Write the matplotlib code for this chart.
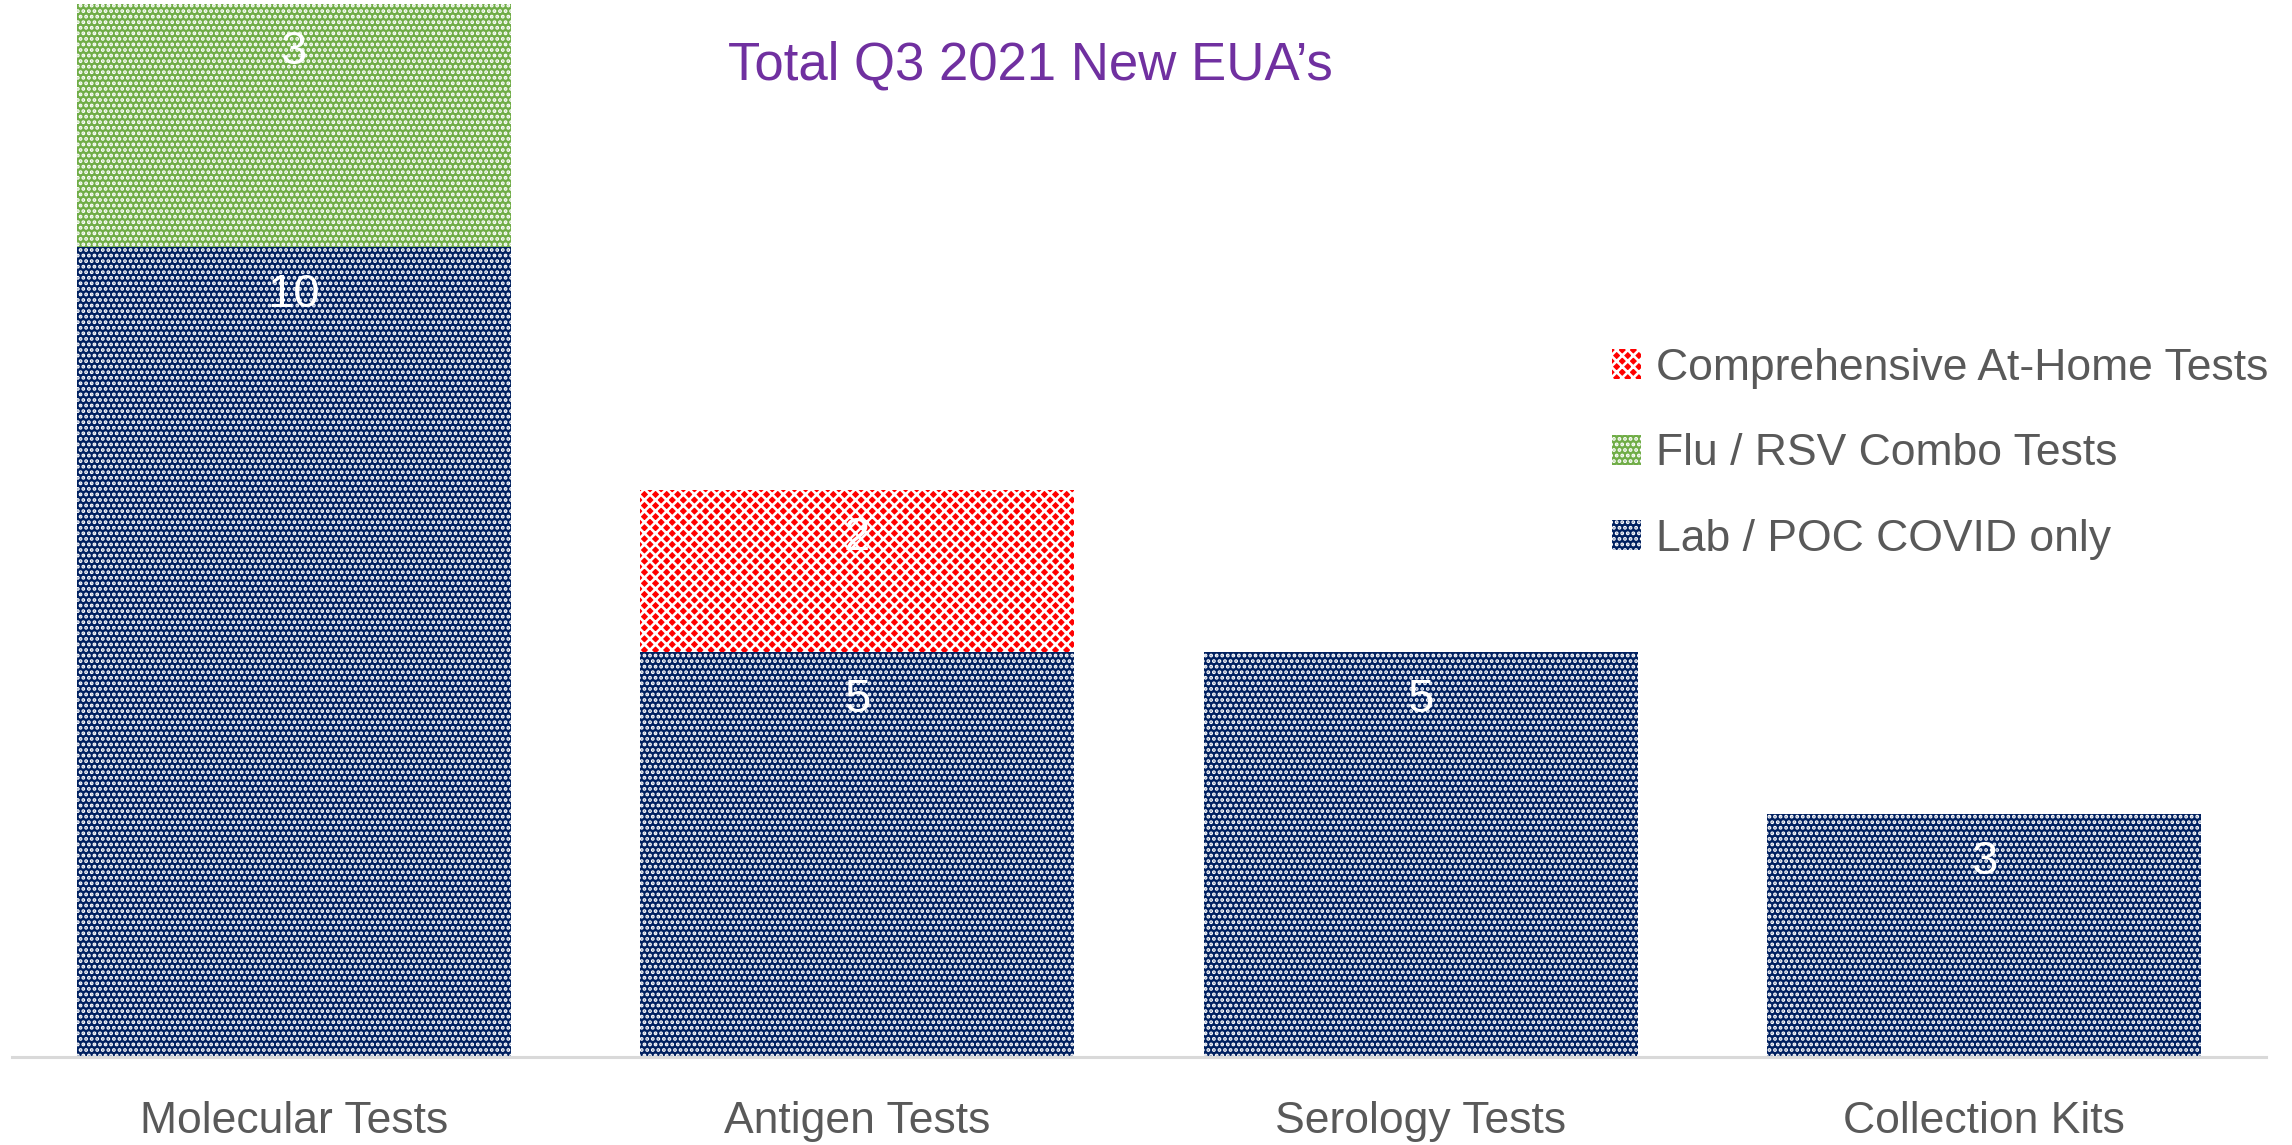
import matplotlib
matplotlib.use("Agg")
import matplotlib.pyplot as plt
import numpy as np

categories = ["Molecular Tests", "Antigen Tests", "Serology Tests", "Collection Kits"]
lab_poc = [10, 5, 5, 3]
flu_rsv = [3, 0, 0, 0]
at_home = [0, 2, 0, 0]
series_names = ["Lab / POC COVID only", "Flu / RSV Combo Tests", "Comprehensive At-Home Tests"]
title = "Total Q3 2021 New EUA\u2019s"

NAVY = "#002060"
GREEN = "#70AD47"
RED = "#FF0000"
GREY = "#595959"
PURPLE = "#7030A0"

plt.rcParams['font.family'] = ['Liberation Sans', 'DejaVu Sans']
plt.rcParams['hatch.linewidth'] = 1.9

W, H = 2292, 1145
fig = plt.figure(figsize=(W / 100, H / 100), dpi=100)
ax = fig.add_axes([12 / W, 88 / H, 2254 / W, 1053 / H])

x = np.arange(len(categories))
width = 0.77
b1 = ax.bar(x, lab_poc, width, color=NAVY, edgecolor='white', linewidth=0, hatch='...',
            label=series_names[0])
bottom2 = np.array(lab_poc)
b2 = ax.bar(x, flu_rsv, width, bottom=bottom2, color=GREEN, edgecolor='white', linewidth=0,
            hatch='...', label=series_names[1])
bottom3 = bottom2 + np.array(flu_rsv)
b3 = ax.bar(x, at_home, width, bottom=bottom3, color=RED, edgecolor='white', linewidth=0,
            hatch='xxx', label=series_names[2])

ax.set_xlim(-0.5, len(categories) - 0.5)
ax.set_ylim(0, 13)

# data labels inside top of each segment
def label_segments(vals, bottoms):
    for xi, v, b in zip(x, vals, bottoms):
        if v > 0:
            ax.annotate(str(v), (xi, b + v), xytext=(0, -19), textcoords='offset points',
                        ha='center', va='top', color='white', fontsize=34)

label_segments(lab_poc, np.zeros(len(x)))
label_segments(flu_rsv, bottom2)
label_segments(at_home, bottom3)

for s in ['top', 'right', 'left']:
    ax.spines[s].set_visible(False)
ax.spines['bottom'].set_color('#D9D9D9')
ax.spines['bottom'].set_linewidth(2.2)
ax.set_yticks([])
ax.set_xticks(x)
ax.set_xticklabels(categories, fontsize=32, color=GREY)
ax.tick_params(axis='x', length=0, pad=32)

handles = [b3, b2, b1]
labels = [series_names[2], series_names[1], series_names[0]]
leg = ax.legend(handles, labels, loc='upper left', bbox_to_anchor=(1612 / W, 1 - 348 / H),
                bbox_transform=fig.transFigure, frameon=False, fontsize=32,
                handlelength=0.66, handleheight=0.66, handletextpad=0.33,
                labelspacing=1.0, borderaxespad=0, borderpad=0)
for t in leg.get_texts():
    t.set_color(GREY)

fig.text(728 / W, 1 - 79 / H, title, ha='left', va='baseline', color=PURPLE,
         fontsize=38)

fig.savefig("out.png", dpi=100)
